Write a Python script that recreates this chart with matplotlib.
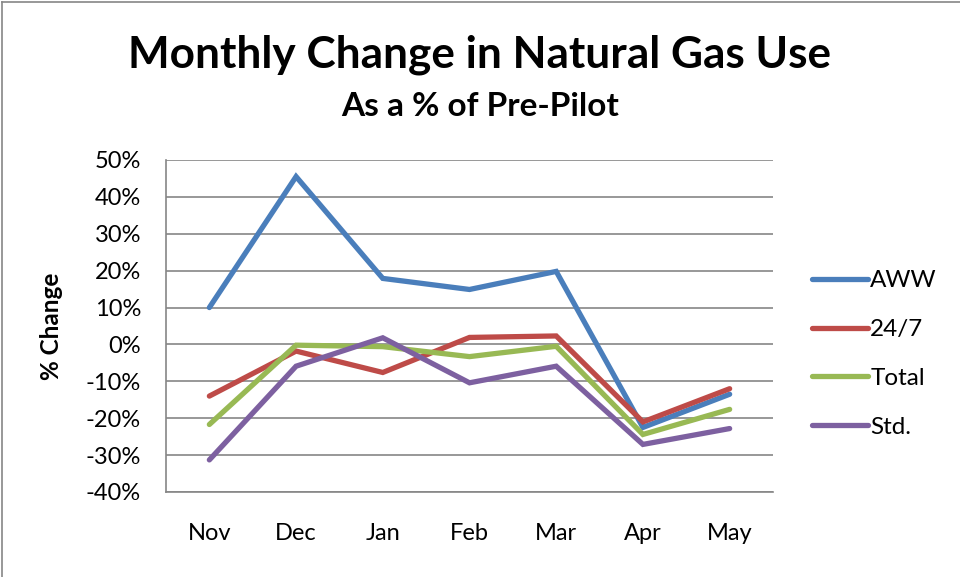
import matplotlib
matplotlib.use("Agg")
import matplotlib.pyplot as plt
from matplotlib.ticker import FuncFormatter, MultipleLocator
from matplotlib.lines import Line2D

months = ["Nov", "Dec", "Jan", "Feb", "Mar", "Apr", "May"]
aww = [10.0, 45.5, 17.9, 14.9, 19.8, -22.5, -13.5]
s247 = [-14.0, -1.8, -7.6, 1.9, 2.3, -21.0, -12.0]
total = [-21.7, -0.2, -0.6, -3.3, -0.5, -24.4, -17.6]
std = [-31.3, -5.9, 1.8, -10.4, -5.9, -27.1, -22.8]
series_names = ["AWW", "24/7", "Total", "Std."]
colors = ["#4A7EBB", "#BE4B48", "#98B954", "#7D60A0"]

plt.rcParams['font.family'] = ['Lato', 'DejaVu Sans']

fig = plt.figure(figsize=(9.6, 5.77), dpi=100)
ax = fig.add_axes([166/960, 1-492/577, (773-166)/960, (492-160)/577])

x = list(range(len(months)))
for vals, c, n in zip([aww, s247, total, std], colors, series_names):
    ax.plot(x, vals, color=c, lw=3.8, label=n, solid_capstyle='round', solid_joinstyle='miter')

ax.set_xlim(-0.5, 6.5)
ax.set_ylim(-40, 50)
ax.yaxis.set_major_locator(MultipleLocator(10))
ax.yaxis.set_major_formatter(FuncFormatter(lambda v, p: f"{int(round(v))}%"))
ax.set_xticks(x)
ax.set_xticklabels(months)
ax.grid(axis='y', color='#868686', lw=1.2)
ax.set_axisbelow(True)
for s in ['top', 'right']:
    ax.spines[s].set_visible(False)
for s in ['left', 'bottom']:
    ax.spines[s].set_color('#868686')
    ax.spines[s].set_linewidth(1.2)
ax.tick_params(axis='both', length=0, labelsize=17, colors='black')
ax.tick_params(axis='x', pad=22)
ax.tick_params(axis='y', pad=18)

ax.set_ylabel("% Change", fontsize=17.5, fontweight='bold')
ax.yaxis.set_label_coords(-(166-63)/607, 0.5)

fig.text(0.5, 1-55/577, "Monthly Change in Natural Gas Use", ha='center', va='center',
         fontsize=31.8, fontweight='bold')
fig.text(0.5, 1-107/577, "As a % of Pre-Pilot", ha='center', va='center',
         fontsize=24, fontweight='bold')

handles = [Line2D([0], [0], color=c, lw=3.8, solid_capstyle='round') for c in colors]
leg = fig.legend(handles, series_names, loc='center left', bbox_to_anchor=(790/960, 1-354/577),
                 frameon=False, fontsize=17.5, handlelength=2.3, handletextpad=0.1,
                 labelspacing=1.15)

# outer chart border (top and left visible)
fig.add_artist(Line2D([2/960, 2/960], [0, 1-2/577], transform=fig.transFigure, color='#868686', lw=1.2))
fig.add_artist(Line2D([2/960, 1], [1-2/577, 1-2/577], transform=fig.transFigure, color='#868686', lw=1.2))

fig.savefig("out.png", dpi=100)
